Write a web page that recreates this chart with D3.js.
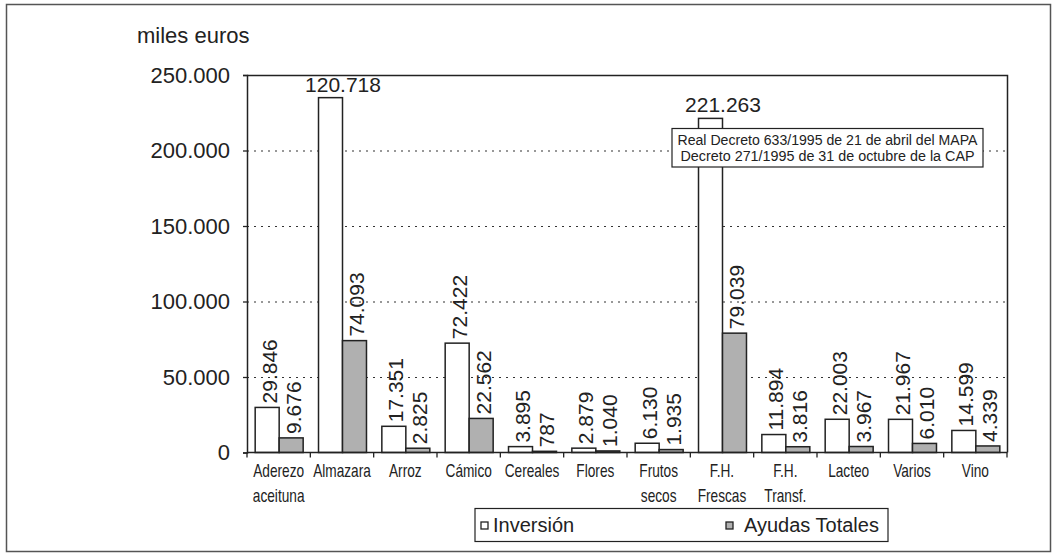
<!DOCTYPE html>
<html>
<head>
<meta charset="utf-8">
<script src="https://cdn.jsdelivr.net/npm/d3@7"></script>
<style>
  html, body { margin: 0; padding: 0; background: #fff; }
  svg { display: block; }
  text { font-family: "Liberation Sans", Arial, sans-serif; fill: #222; }
</style>
</head>
<body>
<svg id="chart" width="1052" height="554"></svg>
<script>
// ---------------- data ----------------
const categories = [
  "Aderezo\naceituna", "Almazara", "Arroz", "Cámico", "Cereales", "Flores",
  "Frutos\nsecos", "F.H.\nFrescas", "F.H.\nTransf.", "Lacteo", "Varios", "Vino"
];
const seriesNames = ["Inversión", "Ayudas Totales"];
// bar heights as drawn in the picture (miles euros)
const inversion = [29846, 235000, 17351, 72422, 3895, 2879, 6130, 221263, 11894, 22003, 21967, 14599];
const ayudas    = [9676, 74093, 2825, 22562, 787, 1040, 1935, 79039, 3816, 3967, 6010, 4339];
// value labels as printed in the picture
const inversionLabels = ["29.846", "120.718", "17.351", "72.422", "3.895", "2.879", "6.130", "221.263", "11.894", "22.003", "21.967", "14.599"];
const ayudasLabels    = ["9.676", "74.093", "2.825", "22.562", "787", "1.040", "1.935", "79.039", "3.816", "3.967", "6.010", "4.339"];
const yTicks = [0, 50000, 100000, 150000, 200000, 250000];
const yUnit = "miles euros";
const noteLines = ["Real Decreto 633/1995 de 21 de abril del MAPA", "Decreto 271/1995 de 31 de octubre de la CAP"];

// ---------------- layout ----------------
const svg = d3.select("#chart");
const plot = { left: 247, right: 1007, top: 75, bottom: 452.5 };
const colors = { "Inversión": "#ffffff", "Ayudas Totales": "#b0b0b0" };
const ink = "#222";

const locale = d3.formatLocale({ decimal: ",", thousands: ".", grouping: [3], currency: ["", "€"] });
const fmt = locale.format(",d");

const x = d3.scaleBand().domain(categories).range([plot.left, plot.right]).padding(0);
const xs = d3.scaleBand().domain(seriesNames).range([0, x.bandwidth()]).paddingInner(0).paddingOuter(0.32);
const y = d3.scaleLinear().domain([0, 250000]).range([plot.bottom, plot.top]);

// outer frame
svg.append("rect").attr("x", 6.5).attr("y", 4.5).attr("width", 1044).attr("height", 547)
  .attr("fill", "none").attr("stroke", "#555").attr("stroke-width", 1.5);

// unit label
svg.append("text").attr("x", 137).attr("y", 43).attr("font-size", 22).attr("fill", "#333").text(yUnit);

// gridlines
svg.append("g").selectAll("line")
  .data(yTicks.filter(d => d > 0 && d < 250000))
  .join("line")
  .attr("x1", plot.left).attr("x2", plot.right)
  .attr("y1", d => y(d) + 0.5).attr("y2", d => y(d) + 0.5)
  .attr("stroke", "#333").attr("stroke-width", 1.2).attr("stroke-dasharray", "2,5");

// plot frame (top and right)
svg.append("path")
  .attr("d", `M${plot.left},${plot.top + 0.5}H${plot.right + 0.5}V${plot.bottom}`)
  .attr("fill", "none").attr("stroke", ink).attr("stroke-width", 1.5);

// y axis
const yAxis = svg.append("g").attr("transform", `translate(${plot.left},0)`)
  .call(d3.axisLeft(y).tickValues(yTicks).tickFormat(fmt).tickSize(4).tickPadding(13));
yAxis.select(".domain").attr("stroke", ink).attr("stroke-width", 1.5);
yAxis.selectAll(".tick line").attr("stroke", ink).attr("stroke-width", 1.3);
yAxis.selectAll(".tick text").attr("font-size", 22).attr("font-family", "Liberation Sans, Arial, sans-serif").attr("fill", "#333");

// bars
const rows = categories.map((c, i) => ({
  cat: c,
  vals: [
    { s: seriesNames[0], v: inversion[i], label: inversionLabels[i] },
    { s: seriesNames[1], v: ayudas[i], label: ayudasLabels[i] }
  ]
}));

const groups = svg.append("g").selectAll("g").data(rows).join("g")
  .attr("transform", d => `translate(${x(d.cat)},0)`);

groups.selectAll("rect").data(d => d.vals).join("rect")
  .attr("x", d => xs(d.s) + 0.5)
  .attr("y", d => y(d.v))
  .attr("width", xs.bandwidth())
  .attr("height", d => y(0) - y(d.v))
  .attr("fill", d => colors[d.s])
  .attr("stroke", ink).attr("stroke-width", 1.5);

// value labels
groups.selectAll("text.val").data(d => d.vals).join("text")
  .attr("class", "val")
  .attr("font-size", 21)
  .attr("fill", "#333")
  .each(function (d) {
    const cx = xs(d.s) + xs.bandwidth() / 2;
    const top = y(d.v);
    const t = d3.select(this).text(d.label);
    if (d.v > 200000) {
      t.attr("text-anchor", "middle").attr("x", cx + 13).attr("y", top - 6);
    } else {
      t.attr("text-anchor", "start").attr("transform", `translate(${cx + 10},${top - 4}) rotate(-90)`);
    }
  });

// x axis
const xAxisG = svg.append("g");
xAxisG.append("line").attr("x1", plot.left).attr("x2", plot.right + 0.5)
  .attr("y1", plot.bottom).attr("y2", plot.bottom).attr("stroke", ink).attr("stroke-width", 1.5);
const bounds = categories.map(c => x(c)).concat([plot.right]);
xAxisG.selectAll("line.tk").data(bounds).join("line").attr("class", "tk")
  .attr("x1", d => d).attr("x2", d => d)
  .attr("y1", plot.bottom).attr("y2", plot.bottom + 5)
  .attr("stroke", ink).attr("stroke-width", 1.3);

xAxisG.selectAll("g.cat").data(categories).join("g").attr("class", "cat")
  .attr("transform", c => `translate(${x(c) + x.bandwidth() / 2},0) scale(0.76,1)`)
  .each(function (c) {
    const t = d3.select(this).append("text").attr("text-anchor", "middle").attr("font-size", 18).attr("fill", "#333");
    c.split("\n").forEach((line, i) => {
      t.append("tspan").attr("x", 0).attr("y", 477 + i * 25).text(line);
    });
  });

// annotation box
const note = svg.append("g");
note.append("rect").attr("x", 672).attr("y", 128.5).attr("width", 311).attr("height", 38.5)
  .attr("fill", "#fff").attr("stroke", ink).attr("stroke-width", 1.2);
noteLines.forEach((line, i) => {
  note.append("text").attr("x", 827.5).attr("y", 145 + i * 16)
    .attr("text-anchor", "middle").attr("font-size", 14)
    .attr("textLength", i === 0 ? 300 : 294).attr("lengthAdjust", "spacingAndGlyphs")
    .text(line);
});

// legend
const leg = svg.append("g");
leg.append("rect").attr("x", 475).attr("y", 508.5).attr("width", 413).attr("height", 33)
  .attr("fill", "#fff").attr("stroke", ink).attr("stroke-width", 1.2);
const legX = [481, 726];
seriesNames.forEach((s, i) => {
  leg.append("rect").attr("x", legX[i]).attr("y", 522).attr("width", 7).attr("height", 7)
    .attr("fill", colors[s]).attr("stroke", ink).attr("stroke-width", 1.3);
  leg.append("text").attr("x", legX[i] + 12 + (i === 1 ? 6 : 0)).attr("y", 532)
    .attr("font-size", 20).text(s);
});
</script>
</body>
</html>
